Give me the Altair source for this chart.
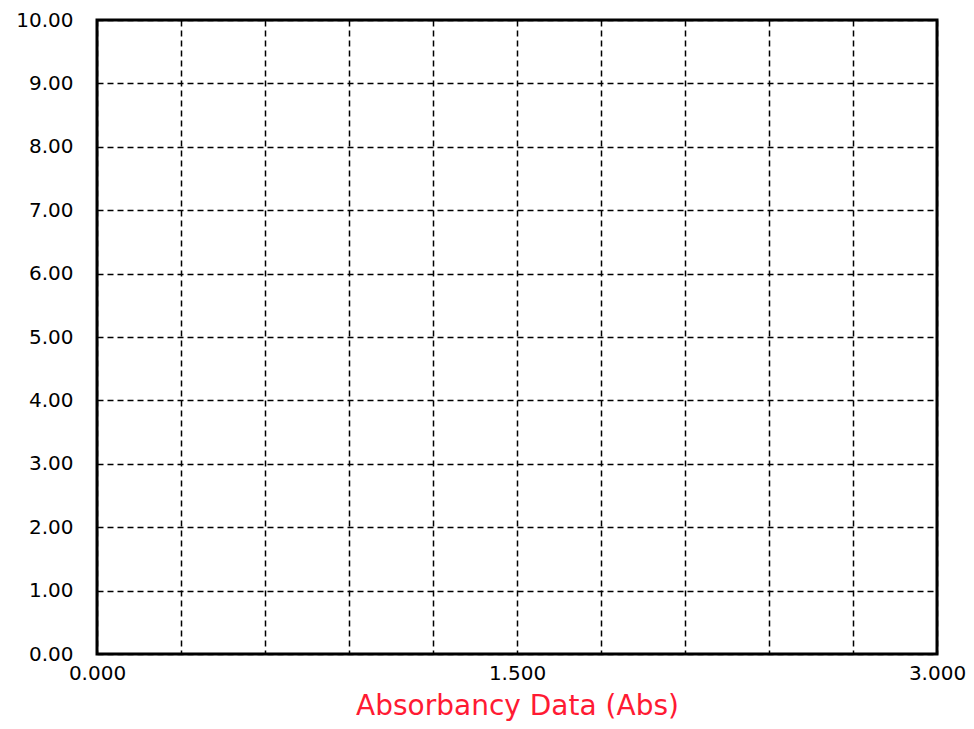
import altair as alt
import pandas as pd

# Axis definitions
x_grid = [0.0, 0.3, 0.6, 0.9, 1.2, 1.5, 1.8, 2.1, 2.4, 2.7, 3.0]
x_labeled = [0.0, 1.5, 3.0]
y_ticks = [0, 1, 2, 3, 4, 5, 6, 7, 8, 9, 10]
x_domain = [0, 3]
y_domain = [0, 10]
x_title = "Absorbancy Data (Abs)"

# Empty chart: only the scale extents
df = pd.DataFrame({"x": x_domain, "y": y_domain})

font = "DejaVu Sans"

label_expr = " || ".join(f"abs(datum.value - {v}) < 1e-6" for v in x_labeled)
label_expr = f"({label_expr}) ? format(datum.value, '.3f') : ''"

grid_style = dict(
    grid=True,
    gridColor="#000000",
    gridDash=[6, 4],
    gridWidth=1.5,
    gridOpacity=1,
    ticks=False,
    domain=False,
    labelOverlap=False,
    labelFlush=False,
    labelFont=font,
    labelFontSize=20,
    labelColor="#000000",
)

chart = (
    alt.Chart(df)
    .mark_point(opacity=0)
    .encode(
        x=alt.X(
            "x:Q",
            scale=alt.Scale(domain=x_domain, nice=False, zero=False),
            axis=alt.Axis(
                values=x_grid,
                labelExpr=label_expr,
                title=x_title,
                titleFont=font,
                titleFontSize=28,
                titleFontWeight="normal",
                titleColor="#ff1a33",
                titleBaseline="alphabetic",
                titleY=60,
                labelPadding=9,
                **grid_style,
            ),
        ),
        y=alt.Y(
            "y:Q",
            scale=alt.Scale(domain=y_domain, nice=False, zero=False),
            axis=alt.Axis(
                values=y_ticks,
                format=".2f",
                title=None,
                labelPadding=24,
                **grid_style,
            ),
        ),
    )
    .properties(
        width=840,
        height=634,
        padding={"left": 89, "top": 12, "right": 29, "bottom": 67},
        autosize=alt.AutoSizeParams(type="none"),
        background="white",
    )
    .configure_view(stroke="#000000", strokeWidth=3)
)

chart.save("out.html", embed_options={"renderer": "svg", "actions": False})
